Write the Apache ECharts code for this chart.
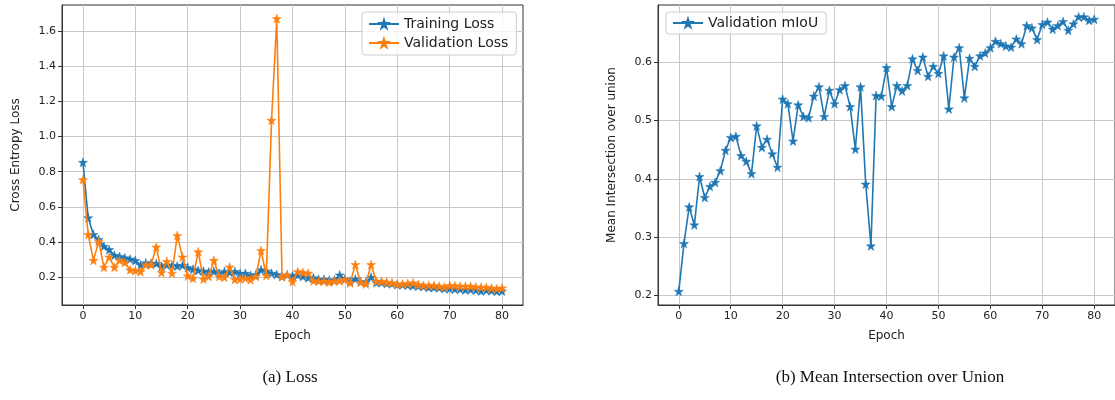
<!DOCTYPE html>
<html>
<head>
<meta charset="utf-8">
<script src="https://cdn.jsdelivr.net/npm/echarts@6/dist/echarts.min.js"></script>
<style>
html,body{margin:0;padding:0;background:#fff;}
#chart{width:1115px;height:400px;}
</style>
</head>
<body>
<div id="chart"></div>
<script>
const epochs = Array.from({length: 81}, (_, i) => i);

const trainingLoss = [
  0.853, 0.538, 0.443, 0.415, 0.376, 0.357, 0.325, 0.318, 0.310, 0.303,
  0.295, 0.270, 0.282, 0.280, 0.278, 0.262, 0.270, 0.268, 0.264, 0.268,
  0.255, 0.245, 0.239, 0.235, 0.230, 0.234, 0.223, 0.233, 0.228, 0.232,
  0.222, 0.222, 0.210, 0.215, 0.242, 0.235, 0.223, 0.216, 0.204, 0.213,
  0.208, 0.212, 0.205, 0.197, 0.197, 0.188, 0.188, 0.183, 0.185, 0.213,
  0.190, 0.178, 0.190, 0.175, 0.172, 0.200, 0.170, 0.170, 0.165, 0.163,
  0.158, 0.157, 0.155, 0.152, 0.150, 0.147, 0.142, 0.142, 0.140, 0.136,
  0.135, 0.133, 0.132, 0.128, 0.130, 0.127, 0.122, 0.126, 0.124, 0.120,
  0.122
];

const validationLoss = [
  0.755, 0.443, 0.296, 0.404, 0.257, 0.315, 0.257, 0.296, 0.284, 0.242,
  0.238, 0.232, 0.271, 0.271, 0.372, 0.227, 0.290, 0.223, 0.437, 0.315,
  0.208, 0.194, 0.345, 0.190, 0.205, 0.296, 0.205, 0.200, 0.258, 0.187,
  0.190, 0.195, 0.186, 0.205, 0.352, 0.210, 1.092, 1.670, 0.204, 0.213,
  0.175, 0.232, 0.227, 0.223, 0.180, 0.178, 0.178, 0.172, 0.178, 0.180,
  0.187, 0.168, 0.272, 0.172, 0.162, 0.272, 0.177, 0.177, 0.172, 0.168,
  0.162, 0.162, 0.165, 0.168, 0.158, 0.154, 0.154, 0.154, 0.149, 0.145,
  0.153, 0.152, 0.149, 0.149, 0.149, 0.145, 0.143, 0.143, 0.139, 0.135,
  0.139
];

const validationMIoU = [
  0.207, 0.289, 0.352, 0.321, 0.404, 0.368, 0.387, 0.394, 0.414, 0.449,
  0.471, 0.473, 0.440, 0.430, 0.409, 0.491, 0.454, 0.468, 0.443, 0.420,
  0.537, 0.529, 0.465, 0.527, 0.507, 0.505, 0.542, 0.558, 0.507, 0.552,
  0.529, 0.553, 0.560, 0.524, 0.451, 0.558, 0.391, 0.285, 0.543, 0.542,
  0.591, 0.524, 0.560, 0.551, 0.560, 0.606, 0.586, 0.609, 0.576, 0.593,
  0.581, 0.611, 0.520, 0.609, 0.625, 0.539, 0.607, 0.593, 0.611, 0.616,
  0.625, 0.636, 0.632, 0.628, 0.626, 0.640, 0.632, 0.663, 0.659, 0.639,
  0.665, 0.669, 0.657, 0.663, 0.670, 0.655, 0.666, 0.678, 0.678, 0.672,
  0.674
];

const xTicks = [0, 10, 20, 30, 40, 50, 60, 70, 80];
const lossTicks = [0.2, 0.4, 0.6, 0.8, 1.0, 1.2, 1.4, 1.6];
const miouTicks = [0.2, 0.3, 0.4, 0.5, 0.6];
const captions = ['(a) Loss', '(b) Mean Intersection over Union'];

const BLUE = '#1f77b4';
const ORANGE = '#ff7f0e';
const STAR = 'path://M50,0 L61.2,34.5 L97.6,34.5 L68.2,55.9 L79.4,90.5 L50,69.1 L20.6,90.5 L31.8,55.9 L2.4,34.5 L38.8,34.5 Z';
const FONT = 'DejaVu Sans';
const TXT = '#222';

function pairs(arr) { return arr.map((v, i) => [epochs[i], v]); }

function xAxisCfg(gridIndex) {
  return {
    type: 'value', gridIndex, min: -4, max: 84,
    name: 'Epoch', nameLocation: 'middle', nameGap: 25,
    nameTextStyle: {fontFamily: FONT, fontSize: 12, color: TXT},
    axisLine: {show: true, onZero: false, lineStyle: {color: '#333', width: 1}},
    axisTick: {show: true, length: 4, customValues: xTicks, lineStyle: {color: '#333'}},
    axisLabel: {customValues: xTicks, fontFamily: FONT, fontSize: 11, color: TXT, margin: 6,
      formatter: v => String(v)},
    splitLine: {show: true, lineStyle: {color: '#c8c8c8', width: 1}}
  };
}

function yAxisCfg(gridIndex, min, max, ticks, name) {
  return {
    type: 'value', gridIndex, min, max,
    name, nameLocation: 'middle', nameGap: 40,
    nameTextStyle: {fontFamily: FONT, fontSize: 12, color: TXT},
    axisLine: {show: true, onZero: false, lineStyle: {color: '#333', width: 1}},
    axisTick: {show: true, length: 4, customValues: ticks, lineStyle: {color: '#333'}},
    axisLabel: {customValues: ticks, fontFamily: FONT, fontSize: 11, color: TXT, margin: 6,
      formatter: v => v.toFixed(1)},
    splitLine: {show: true, lineStyle: {color: '#c8c8c8', width: 1}}
  };
}

function lineSeries(name, data, color, xi, yi, z) {
  return {
    type: 'line', name, data: pairs(data), xAxisIndex: xi, yAxisIndex: yi,
    symbol: STAR, symbolSize: 9, showSymbol: true, z,
    itemStyle: {color, borderColor: color, borderWidth: 0.5},
    lineStyle: {color, width: 1.6},
    emphasis: {disabled: true}
  };
}

const chart = echarts.init(document.getElementById('chart'), null, {renderer: 'canvas'});
chart.setOption({
  animation: false,
  backgroundColor: '#fff',
  grid: [
    {left: 62, top: 5, width: 461, height: 300, show: true, borderColor: '#333', borderWidth: 1},
    {left: 658, top: 5, width: 461, height: 300, show: true, borderColor: '#333', borderWidth: 1}
  ],
  xAxis: [xAxisCfg(0), xAxisCfg(1)],
  yAxis: [
    yAxisCfg(0, 0.0425, 1.7475, lossTicks, 'Cross Entropy Loss'),
    yAxisCfg(1, 0.1836, 0.6984, miouTicks, 'Mean Intersection over union')
  ],
  legend: [
    {
      data: ['Training Loss', 'Validation Loss'], orient: 'vertical',
      left: 362, top: 12, itemWidth: 30, itemHeight: 10, itemGap: 5,
      padding: [5, 8, 5, 6], borderColor: '#cccccc', borderWidth: 1, borderRadius: 3,
      backgroundColor: 'rgba(255,255,255,0.8)',
      textStyle: {fontFamily: FONT, fontSize: 14, color: TXT}
    },
    {
      data: ['Validation mIoU'], orient: 'vertical',
      left: 666, top: 12, itemWidth: 30, itemHeight: 10,
      padding: [4, 8, 4, 6], borderColor: '#cccccc', borderWidth: 1, borderRadius: 3,
      backgroundColor: 'rgba(255,255,255,0.8)',
      textStyle: {fontFamily: FONT, fontSize: 14, color: TXT}
    }
  ],
  graphic: [
    {type: 'text', x: 290, y: 378,
      style: {text: captions[0], font: '17px "Liberation Serif"', fill: '#111', align: 'center', verticalAlign: 'middle'}},
    {type: 'text', x: 890, y: 378,
      style: {text: captions[1], font: '17px "Liberation Serif"', fill: '#111', align: 'center', verticalAlign: 'middle'}}
  ],
  series: [
    lineSeries('Training Loss', trainingLoss, BLUE, 0, 0, 2),
    lineSeries('Validation Loss', validationLoss, ORANGE, 0, 0, 3),
    lineSeries('Validation mIoU', validationMIoU, BLUE, 1, 1, 2)
  ]
});
</script>
</body>
</html>
